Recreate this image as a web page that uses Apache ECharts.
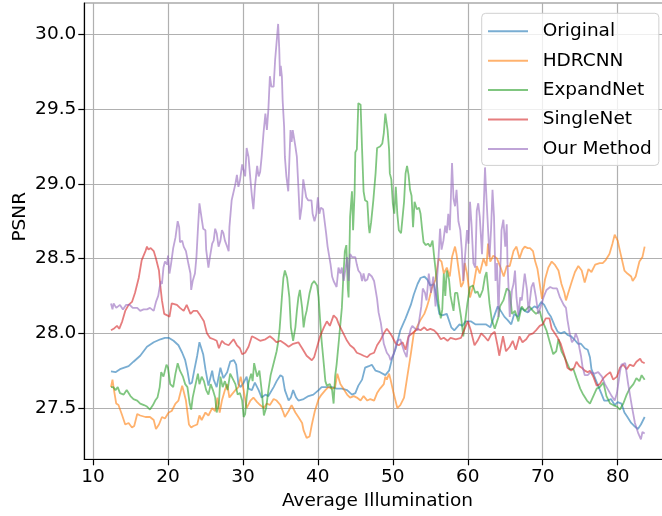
<!DOCTYPE html>
<html>
<head>
<meta charset="utf-8">
<script src="https://cdn.jsdelivr.net/npm/echarts@6/dist/echarts.min.js"></script>
<style>
  html, body { margin: 0; padding: 0; background: #fff; }
  #chart { width: 662px; height: 516px; }
</style>
</head>
<body>
<div id="chart"></div>
<script>
// PSNR versus average illumination for five HDR reconstruction methods.

const seriesNames = ['Original', 'HDRCNN', 'ExpandNet', 'SingleNet', 'Our Method'];
const seriesColors = ['#1f77b4', '#ff7f0e', '#2ca02c', '#d62728', '#9467bd'];

const xTicks = [10, 20, 30, 40, 50, 60, 70, 80];
const yTicks = [27.5, 28.0, 28.5, 29.0, 29.5, 30.0];

// Original
const originalX = [12.4, 13.0, 13.6, 14.75, 15.4, 16.3, 17.2, 18.1, 19.0, 19.6, 20.1, 20.75, 21.4, 21.9, 22.3, 22.6, 22.9, 23.2, 23.5, 23.9, 24.2, 24.4, 24.7, 25.0, 25.4, 25.9, 26.1, 26.5, 27.0, 27.4, 27.9, 28.3, 28.8, 29.1, 29.4, 29.7, 30.1, 30.5, 30.75, 31.2, 31.6, 32.1, 32.5, 33.0, 33.4, 34.1, 34.5, 35.0, 35.3, 35.6, 36.1, 36.4, 36.7, 37.1, 37.4, 38.1, 38.75, 39.4, 40.1, 40.5, 41.2, 41.9, 42.5, 43.2, 43.9, 44.55, 45.0, 45.4, 45.9, 46.3, 46.8, 47.2, 47.7, 48.3, 49.0, 49.5, 49.9, 50.4, 51.0, 51.7, 52.4, 52.8, 53.3, 53.7, 54.2, 54.6, 55.0, 55.5, 55.9, 56.2, 56.6, 57.2, 57.8, 58.2, 58.9, 59.3, 59.7, 60.4, 61.0, 61.7, 62.4, 63.0, 63.7, 64.0, 64.4, 64.9, 65.3, 65.8, 66.2, 66.7, 67.1, 67.6, 68.0, 68.4, 68.9, 69.3, 69.8, 70.2, 70.7, 71.1, 71.6, 72.0, 72.4, 72.9, 73.3, 73.8, 74.2, 74.7, 75.1, 75.6, 76.0, 76.3, 76.5, 76.9, 77.3, 77.8, 78.2, 78.7, 79.1, 79.6, 80.0, 80.5, 80.9, 81.3, 81.8, 82.2, 82.7, 83.1, 83.6];
const originalY = [27.745, 27.74, 27.76, 27.78, 27.81, 27.85, 27.91, 27.94, 27.96, 27.97, 27.97, 27.95, 27.92, 27.87, 27.82, 27.75, 27.66, 27.67, 27.75, 27.85, 27.94, 27.95, 27.86, 27.76, 27.65, 27.75, 27.69, 27.64, 27.77, 27.70, 27.74, 27.81, 27.82, 27.79, 27.66, 27.64, 27.67, 27.71, 27.63, 27.62, 27.67, 27.62, 27.57, 27.59, 27.58, 27.64, 27.68, 27.72, 27.71, 27.62, 27.55, 27.57, 27.62, 27.57, 27.55, 27.56, 27.58, 27.59, 27.62, 27.64, 27.64, 27.64, 27.63, 27.63, 27.62, 27.59, 27.60, 27.65, 27.69, 27.77, 27.78, 27.79, 27.75, 27.74, 27.72, 27.75, 27.83, 27.90, 28.02, 28.10, 28.19, 28.26, 28.33, 28.37, 28.38, 28.36, 28.32, 28.33, 28.22, 28.13, 28.12, 28.13, 28.04, 28.02, 28.06, 28.05, 28.08, 28.08, 28.06, 28.06, 28.06, 28.04, 28.14, 28.18, 28.15, 28.11, 28.09, 28.06, 28.13, 28.11, 28.17, 28.15, 28.14, 28.16, 28.18, 28.17, 28.21, 28.19, 28.14, 28.11, 28.05, 28.01, 28.00, 28.01, 27.99, 27.98, 27.96, 27.93, 27.93, 27.90, 27.89, 27.84, 27.76, 27.71, 27.66, 27.60, 27.55, 27.55, 27.56, 27.52, 27.54, 27.53, 27.47, 27.44, 27.40, 27.38, 27.36, 27.39, 27.44];

// HDRCNN
const hdrcnnX = [12.4, 12.6, 12.8, 13.1, 13.4, 13.9, 14.3, 14.75, 15.2, 15.5, 15.9, 16.3, 17.0, 17.6, 18.1, 18.4, 18.8, 19.2, 19.6, 20.1, 20.5, 21.0, 21.4, 21.9, 22.2, 22.4, 22.8, 23.1, 23.4, 23.9, 24.2, 24.5, 25.0, 25.4, 25.9, 26.3, 26.6, 26.9, 27.2, 27.6, 27.9, 28.2, 28.5, 29.0, 29.4, 29.7, 30.1, 30.5, 31.0, 31.4, 31.9, 32.3, 32.8, 33.2, 33.6, 34.1, 34.5, 35.0, 35.4, 35.6, 36.1, 36.5, 37.0, 37.4, 37.9, 38.1, 38.5, 38.9, 39.2, 39.6, 40.1, 40.5, 41.0, 41.4, 41.9, 42.3, 42.6, 43.0, 43.4, 43.9, 44.3, 44.8, 45.2, 45.7, 46.1, 46.6, 47.0, 47.5, 47.9, 48.3, 48.8, 49.0, 49.2, 49.5, 49.7, 50.1, 50.6, 51.0, 51.5, 51.9, 52.4, 52.8, 53.3, 53.7, 54.2, 54.5, 54.8, 55.2, 55.7, 56.1, 56.5, 56.8, 57.2, 57.6, 57.9, 58.3, 58.5, 58.8, 59.1, 59.4, 59.6, 59.9, 60.3, 60.8, 61.2, 61.6, 62.1, 62.5, 62.7, 63.0, 63.4, 63.9, 64.3, 64.8, 65.2, 65.6, 66.1, 66.5, 66.9, 67.3, 67.6, 68.0, 68.3, 68.7, 69.0, 69.3, 69.6, 69.9, 70.3, 70.75, 71.2, 71.6, 72.1, 72.5, 72.9, 73.1, 73.4, 73.9, 74.3, 74.75, 75.2, 75.6, 76.1, 76.5, 77.0, 77.6, 78.0, 78.4, 78.9, 79.3, 79.6, 80.0, 80.4, 80.9, 81.3, 81.8, 82.0, 82.4, 82.9, 83.3, 83.6];
const hdrcnnY = [27.64, 27.69, 27.62, 27.53, 27.52, 27.45, 27.39, 27.40, 27.37, 27.38, 27.46, 27.45, 27.44, 27.44, 27.42, 27.36, 27.39, 27.44, 27.43, 27.47, 27.48, 27.53, 27.55, 27.65, 27.59, 27.55, 27.39, 27.37, 27.38, 27.39, 27.45, 27.42, 27.47, 27.45, 27.50, 27.48, 27.57, 27.47, 27.55, 27.62, 27.66, 27.57, 27.59, 27.62, 27.64, 27.71, 27.62, 27.50, 27.55, 27.57, 27.54, 27.52, 27.50, 27.53, 27.52, 27.56, 27.55, 27.52, 27.47, 27.44, 27.48, 27.52, 27.47, 27.44, 27.40, 27.35, 27.30, 27.31, 27.39, 27.48, 27.56, 27.59, 27.62, 27.64, 27.63, 27.64, 27.73, 27.66, 27.63, 27.59, 27.57, 27.58, 27.57, 27.55, 27.58, 27.55, 27.56, 27.55, 27.60, 27.63, 27.66, 27.71, 27.69, 27.73, 27.69, 27.60, 27.50, 27.52, 27.57, 27.70, 27.86, 28.00, 28.05, 28.09, 28.13, 28.17, 28.22, 28.30, 28.36, 28.50, 28.48, 28.40, 28.44, 28.38, 28.51, 28.58, 28.53, 28.42, 28.31, 28.34, 28.47, 28.40, 28.24, 28.33, 28.45, 28.40, 28.50, 28.45, 28.60, 28.48, 28.52, 28.50, 28.45, 28.38, 28.45, 28.45, 28.55, 28.58, 28.50, 28.56, 28.58, 28.57, 28.57, 28.55, 28.48, 28.43, 28.33, 28.23, 28.36, 28.44, 28.48, 28.46, 28.42, 28.33, 28.27, 28.22, 28.27, 28.35, 28.41, 28.45, 28.42, 28.34, 28.43, 28.41, 28.46, 28.47, 28.47, 28.49, 28.53, 28.60, 28.66, 28.62, 28.53, 28.42, 28.40, 28.38, 28.35, 28.38, 28.48, 28.51, 28.58];

// ExpandNet
const expandnetX = [12.4, 12.7, 13.0, 13.3, 13.6, 14.1, 14.5, 15.0, 15.4, 15.9, 16.3, 16.8, 17.2, 17.6, 18.0, 18.3, 18.6, 18.9, 19.1, 19.4, 19.8, 20.0, 20.3, 20.7, 21.0, 21.3, 21.6, 22.0, 22.3, 22.6, 22.9, 23.1, 23.3, 23.6, 24.0, 24.2, 24.5, 24.8, 25.1, 25.4, 25.7, 26.0, 26.3, 26.5, 26.8, 27.0, 27.3, 27.6, 27.95, 28.3, 28.7, 29.0, 29.3, 29.6, 29.9, 30.1, 30.3, 30.5, 30.75, 31.1, 31.3, 31.5, 31.9, 32.2, 32.5, 32.8, 33.1, 33.4, 33.7, 34.0, 34.3, 34.5, 34.7, 34.9, 35.2, 35.4, 35.6, 35.9, 36.2, 36.4, 36.6, 36.7, 37.0, 37.2, 37.4, 37.6, 37.9, 38.1, 38.3, 38.5, 38.9, 39.2, 39.5, 39.9, 40.1, 40.3, 40.5, 40.8, 41.0, 41.2, 41.6, 41.9, 42.1, 42.3, 42.5, 42.8, 43.0, 43.2, 43.4, 43.6, 43.8, 44.0, 44.1, 44.3, 44.55, 44.7, 44.9, 45.0, 45.2, 45.4, 45.7, 45.9, 46.1, 46.3, 46.6, 46.8, 46.9, 47.1, 47.4, 47.7, 47.9, 48.3, 48.6, 48.8, 49.0, 49.3, 49.5, 49.6, 49.8, 50.0, 50.2, 50.4, 50.6, 50.8, 51.1, 51.5, 51.7, 51.9, 52.1, 52.3, 52.5, 52.7, 52.9, 53.2, 53.5, 53.7, 53.9, 54.1, 54.4, 54.7, 55.0, 55.3, 55.5, 55.8, 56.1, 56.4, 56.6, 56.8, 57.0, 57.2, 57.5, 57.7, 57.9, 58.1, 58.3, 58.6, 58.8, 59.1, 59.4, 59.6, 59.95, 60.3, 60.7, 61.0, 61.3, 61.6, 62.0, 62.3, 62.5, 62.9, 63.2, 63.6, 64.1, 64.3, 64.75, 65.2, 65.6, 65.9, 66.3, 66.75, 67.2, 67.6, 68.2, 68.7, 69.1, 69.6, 69.9, 70.5, 71.0, 71.4, 71.8, 72.1, 72.5, 73.0, 73.6, 74.1, 74.5, 75.0, 75.4, 75.9, 76.3, 76.75, 77.2, 77.6, 78.1, 78.5, 79.0, 79.4, 79.9, 80.3, 80.75, 81.2, 81.6, 82.1, 82.5, 82.9, 83.2, 83.6];
const expandnetY = [27.64, 27.64, 27.62, 27.64, 27.60, 27.59, 27.62, 27.58, 27.56, 27.55, 27.53, 27.52, 27.51, 27.49, 27.52, 27.55, 27.57, 27.64, 27.74, 27.71, 27.79, 27.77, 27.66, 27.64, 27.73, 27.80, 27.75, 27.71, 27.66, 27.64, 27.53, 27.49, 27.57, 27.64, 27.73, 27.66, 27.71, 27.68, 27.62, 27.59, 27.66, 27.62, 27.57, 27.47, 27.53, 27.71, 27.64, 27.68, 27.62, 27.73, 27.69, 27.66, 27.59, 27.60, 27.55, 27.44, 27.46, 27.57, 27.67, 27.73, 27.68, 27.80, 27.71, 27.75, 27.62, 27.45, 27.50, 27.62, 27.72, 27.78, 27.84, 27.88, 27.94, 28.03, 28.24, 28.37, 28.42, 28.37, 28.24, 28.04, 28.05, 27.95, 28.04, 28.15, 28.24, 28.29, 28.17, 28.04, 28.11, 28.15, 28.27, 28.33, 28.35, 28.32, 28.24, 28.09, 27.95, 27.79, 27.68, 27.65, 27.66, 27.62, 27.53, 27.71, 27.79, 27.95, 28.06, 28.17, 28.38, 28.55, 28.59, 28.30, 28.24, 28.78, 28.95, 28.69, 28.94, 29.21, 29.23, 29.54, 29.53, 29.23, 28.95, 28.89, 28.88, 28.71, 28.67, 28.74, 28.89, 29.07, 29.24, 29.25, 29.27, 29.34, 29.47, 29.36, 29.23, 29.07, 29.03, 28.87, 28.80, 28.98, 28.80, 28.69, 28.67, 28.88, 29.07, 29.12, 29.06, 28.96, 28.92, 28.71, 28.88, 28.83, 28.84, 28.80, 28.70, 28.61, 28.59, 28.60, 28.58, 28.62, 28.52, 28.38, 28.20, 28.10, 28.16, 28.40, 28.25, 28.42, 28.36, 28.25, 28.20, 28.15, 28.27, 28.27, 28.28, 28.11, 27.98, 28.06, 28.20, 28.31, 28.32, 28.27, 28.28, 28.24, 28.29, 28.38, 28.41, 28.20, 28.09, 28.03, 28.11, 28.18, 28.22, 28.30, 28.28, 28.13, 28.15, 28.08, 28.18, 28.15, 28.18, 28.15, 28.13, 28.15, 28.09, 28.02, 27.93, 27.86, 27.88, 27.96, 27.88, 27.83, 27.76, 27.76, 27.70, 27.63, 27.59, 27.55, 27.53, 27.58, 27.63, 27.64, 27.67, 27.58, 27.53, 27.52, 27.51, 27.49, 27.53, 27.59, 27.63, 27.66, 27.70, 27.68, 27.72, 27.69];

// SingleNet
const singlenetX = [12.4, 12.75, 13.2, 13.5, 13.9, 14.3, 14.75, 15.2, 15.6, 16.1, 16.5, 17.0, 17.2, 17.4, 17.7, 18.1, 18.4, 18.8, 19.0, 19.2, 19.5, 19.9, 20.2, 20.5, 20.75, 21.2, 21.6, 22.1, 22.5, 23.0, 23.4, 23.9, 24.3, 24.8, 25.2, 25.6, 26.1, 26.5, 26.8, 27.2, 27.6, 28.1, 28.75, 29.2, 29.6, 29.9, 30.3, 30.75, 31.2, 31.6, 32.3, 33.0, 33.6, 34.1, 34.5, 35.0, 35.6, 36.1, 36.7, 37.4, 37.9, 38.5, 39.2, 39.5, 39.9, 40.3, 40.8, 41.2, 41.6, 42.1, 42.5, 42.8, 43.0, 43.4, 43.9, 44.3, 44.8, 45.2, 45.7, 46.1, 46.6, 47.0, 47.5, 47.9, 48.3, 48.8, 49.2, 49.5, 49.9, 50.4, 50.8, 51.3, 51.7, 52.1, 52.6, 53.3, 53.7, 54.2, 54.6, 55.0, 55.5, 55.9, 56.4, 56.8, 57.3, 57.7, 58.4, 59.1, 59.5, 60.0, 60.4, 60.9, 61.3, 61.8, 62.2, 62.7, 63.1, 63.6, 64.0, 64.2, 64.7, 65.1, 65.6, 66.0, 66.4, 66.9, 67.3, 67.8, 68.2, 68.7, 69.1, 69.6, 70.0, 70.4, 70.9, 71.2, 71.6, 72.0, 72.4, 72.9, 73.3, 73.8, 74.2, 74.5, 74.9, 75.2, 75.6, 76.0, 76.3, 76.75, 77.2, 77.6, 78.1, 78.5, 79.0, 79.4, 79.9, 80.3, 80.75, 81.2, 81.6, 82.1, 82.5, 83.0, 83.2, 83.6];
const singlenetY = [28.02, 28.03, 28.05, 28.03, 28.08, 28.15, 28.19, 28.21, 28.27, 28.37, 28.49, 28.55, 28.58, 28.56, 28.57, 28.55, 28.50, 28.42, 28.31, 28.22, 28.13, 28.12, 28.11, 28.20, 28.21, 28.19, 28.17, 28.15, 28.19, 28.13, 28.15, 28.15, 28.12, 28.08, 28.00, 27.97, 27.96, 27.95, 27.90, 27.95, 27.93, 27.92, 27.96, 27.92, 27.90, 27.86, 27.87, 27.91, 27.98, 27.97, 27.95, 27.96, 27.98, 27.96, 27.94, 27.95, 27.93, 27.91, 27.93, 27.94, 27.90, 27.85, 27.82, 27.84, 27.91, 27.98, 28.04, 28.08, 28.05, 28.12, 28.10, 28.06, 28.04, 28.00, 27.95, 27.92, 27.90, 27.87, 27.86, 27.85, 27.84, 27.86, 27.87, 27.92, 27.95, 28.00, 28.03, 28.01, 27.98, 27.93, 27.92, 27.94, 27.89, 27.98, 28.00, 28.03, 28.02, 28.04, 28.02, 28.03, 28.02, 28.00, 27.96, 27.97, 27.95, 27.97, 27.96, 27.97, 28.02, 28.08, 28.02, 27.92, 27.95, 28.00, 27.98, 27.95, 27.99, 28.01, 27.91, 27.85, 27.98, 27.88, 27.91, 27.95, 27.89, 27.98, 27.94, 27.96, 27.99, 28.00, 28.02, 28.05, 28.06, 28.10, 28.10, 28.03, 28.00, 27.97, 27.93, 27.85, 27.77, 27.75, 27.77, 27.81, 27.78, 27.77, 27.75, 27.74, 27.75, 27.71, 27.65, 27.66, 27.70, 27.72, 27.74, 27.69, 27.71, 27.77, 27.79, 27.76, 27.79, 27.78, 27.81, 27.83, 27.81, 27.80];

// Our Method
const oursX = [12.4, 12.6, 12.75, 13.1, 13.6, 14.0, 14.4, 14.9, 15.3, 15.9, 16.3, 16.75, 17.2, 17.6, 18.1, 18.4, 18.7, 18.9, 19.1, 19.2, 19.4, 19.6, 19.9, 20.0, 20.2, 20.4, 20.7, 21.0, 21.3, 21.5, 21.6, 21.9, 22.1, 22.4, 22.75, 23.0, 23.1, 23.3, 23.6, 23.8, 24.0, 24.2, 24.4, 24.7, 25.0, 25.1, 25.4, 25.6, 25.9, 26.1, 26.3, 26.5, 26.75, 27.0, 27.2, 27.4, 27.6, 27.9, 28.1, 28.2, 28.5, 28.75, 29.0, 29.2, 29.4, 29.6, 29.9, 30.1, 30.3, 30.5, 30.75, 31.0, 31.2, 31.4, 31.6, 31.9, 32.1, 32.3, 32.5, 32.75, 33.0, 33.2, 33.4, 33.6, 33.8, 34.1, 34.3, 34.5, 34.7, 34.85, 34.95, 35.05, 35.2, 35.3, 35.5, 35.6, 35.8, 36.05, 36.2, 36.35, 36.5, 36.65, 36.8, 37.0, 37.2, 37.4, 37.6, 37.85, 38.05, 38.25, 38.45, 38.7, 38.9, 39.15, 39.3, 39.55, 39.8, 40.0, 40.2, 40.4, 40.7, 40.9, 41.1, 41.3, 41.5, 41.7, 41.9, 42.1, 42.3, 42.5, 42.75, 43.0, 43.2, 43.45, 43.65, 43.9, 44.1, 44.3, 44.55, 44.8, 45.0, 45.2, 45.4, 45.7, 45.9, 46.1, 46.3, 46.6, 46.8, 47.0, 47.2, 47.5, 47.7, 47.9, 48.1, 48.4, 48.6, 48.8, 49.0, 49.2, 49.5, 49.7, 50.1, 50.6, 51.0, 51.5, 51.85, 52.1, 52.4, 52.6, 53.0, 53.3, 53.5, 53.8, 54.0, 54.3, 54.5, 54.8, 55.1, 55.4, 55.7, 55.9, 56.1, 56.3, 56.5, 56.75, 57.0, 57.2, 57.4, 57.6, 57.9, 58.1, 58.3, 58.5, 58.75, 59.0, 59.2, 59.4, 59.6, 59.9, 60.1, 60.3, 60.5, 60.75, 61.0, 61.2, 61.4, 61.6, 61.9, 62.1, 62.3, 62.4, 62.6, 62.9, 63.1, 63.3, 63.5, 63.7, 63.9, 64.1, 64.2, 64.4, 64.5, 64.75, 65.0, 65.2, 65.3, 65.5, 65.6, 65.9, 66.1, 66.3, 66.5, 66.75, 67.0, 67.2, 67.6, 67.9, 68.1, 68.5, 68.75, 69.1, 69.4, 69.8, 70.1, 70.5, 71.0, 71.4, 71.9, 72.3, 72.8, 73.1, 73.3, 73.6, 73.9, 74.2, 74.4, 74.7, 74.9, 75.1, 75.3, 75.6, 76.0, 76.4, 76.9, 77.4, 77.9, 78.3, 78.75, 79.2, 79.6, 79.9, 80.3, 80.5, 81.0, 81.4, 81.9, 82.3, 82.75, 83.1, 83.3, 83.6];
const oursY = [28.20, 28.16, 28.20, 28.17, 28.19, 28.16, 28.19, 28.19, 28.17, 28.17, 28.15, 28.16, 28.16, 28.17, 28.15, 28.21, 28.25, 28.31, 28.35, 28.33, 28.44, 28.48, 28.46, 28.52, 28.40, 28.46, 28.57, 28.64, 28.75, 28.71, 28.61, 28.62, 28.58, 28.55, 28.46, 28.40, 28.29, 28.35, 28.40, 28.51, 28.70, 28.87, 28.80, 28.70, 28.69, 28.56, 28.44, 28.51, 28.60, 28.62, 28.70, 28.67, 28.58, 28.62, 28.69, 28.67, 28.62, 28.58, 28.55, 28.71, 28.89, 28.90, 29.00, 29.06, 28.98, 29.02, 29.13, 29.12, 29.05, 29.24, 29.18, 29.03, 28.92, 28.83, 28.98, 29.12, 29.05, 29.08, 29.18, 29.34, 29.47, 29.36, 29.50, 29.72, 29.65, 29.65, 29.83, 29.83, 30.07, 29.90, 29.72, 29.79, 29.72, 29.56, 29.38, 29.18, 29.05, 28.95, 29.16, 29.36, 29.28, 29.36, 29.36, 29.25, 29.18, 28.98, 28.76, 28.85, 29.03, 29.04, 28.91, 28.89, 28.90, 28.89, 28.80, 28.75, 28.80, 28.91, 28.80, 28.84, 28.83, 28.83, 28.67, 28.58, 28.52, 28.46, 28.38, 28.35, 28.33, 28.31, 28.44, 28.40, 28.44, 28.35, 28.34, 28.51, 28.35, 28.53, 28.51, 28.52, 28.51, 28.46, 28.42, 28.40, 28.35, 28.40, 28.35, 28.36, 28.40, 28.41, 28.38, 28.35, 28.29, 28.23, 28.14, 28.07, 28.00, 27.93, 27.90, 27.87, 27.85, 27.82, 27.86, 27.95, 27.96, 27.88, 27.84, 27.97, 28.03, 28.05, 28.03, 28.02, 28.08, 28.18, 28.30, 28.27, 28.22, 28.40, 28.27, 28.38, 28.18, 28.36, 28.51, 28.70, 28.56, 28.62, 28.72, 28.67, 28.80, 28.69, 29.14, 28.90, 28.85, 28.96, 28.75, 28.69, 28.56, 28.35, 28.49, 28.69, 28.60, 28.88, 28.73, 28.47, 28.44, 28.82, 28.87, 28.78, 28.53, 28.80, 29.11, 29.00, 28.80, 28.51, 28.69, 28.96, 28.78, 28.35, 28.47, 28.11, 28.29, 28.51, 28.69, 28.76, 28.58, 28.73, 28.47, 28.24, 28.11, 28.29, 28.33, 28.42, 28.24, 28.12, 28.24, 28.22, 28.40, 28.29, 28.14, 28.31, 28.34, 28.24, 28.13, 28.19, 28.24, 28.29, 28.31, 28.30, 28.30, 28.24, 28.19, 28.17, 28.09, 28.00, 27.94, 27.96, 28.00, 27.96, 27.90, 27.85, 27.78, 27.72, 27.72, 27.74, 27.73, 27.74, 27.71, 27.66, 27.62, 27.58, 27.55, 27.60, 27.74, 27.79, 27.80, 27.66, 27.51, 27.40, 27.33, 27.29, 27.34, 27.33];

const seriesX = [originalX, hdrcnnX, expandnetX, singlenetX, oursX];
const seriesY = [originalY, hdrcnnY, expandnetY, singlenetY, oursY];

const FONT = 'DejaVu Sans';
const chart = echarts.init(document.getElementById('chart'), null, { renderer: 'canvas' });

const axisText = { color: '#000', fontFamily: FONT, fontSize: 18.5 };

chart.setOption({
  animation: false,
  backgroundColor: '#fff',
  grid: {
    left: 84.3, top: 3, width: 586.3, height: 456.3,
    outerBoundsMode: 'none', containLabel: false,
    show: true, borderColor: '#808080', borderWidth: 1.2, backgroundColor: 'transparent'
  },
  legend: {
    data: seriesNames,
    orient: 'vertical',
    left: 481.7, top: 13.3,
    icon: 'rect', itemWidth: 40, itemHeight: 2, itemGap: 9.4,
    padding: [8, 7, 6.5, 6.3],
    backgroundColor: 'rgba(255,255,255,0.8)',
    borderColor: '#d0d0d0', borderWidth: 1, borderRadius: 4,
    itemStyle: { opacity: 0.6 },
    textStyle: { color: '#000', fontFamily: FONT, fontSize: 18.5, lineHeight: 20, padding: [0, 0, 0, 9.7] }
  },
  graphic: [{
    type: 'text',
    left: 10.5, top: 192,
    rotation: Math.PI / 2,
    style: { text: 'PSNR', fill: '#000', font: '18.5px "DejaVu Sans"' }
  }],
  xAxis: {
    type: 'value', min: 8.84, max: 87.06,
    name: 'Average Illumination', nameLocation: 'middle', nameGap: 32,
    nameTextStyle: axisText,
    axisLine: { onZero: false, lineStyle: { color: '#000', width: 1.2 } },
    axisTick: { show: true, length: 6, customValues: xTicks, lineStyle: { color: '#000', width: 1.2 } },
    axisLabel: Object.assign({ margin: 8, customValues: xTicks, formatter: v => String(Math.round(v)) }, axisText),
    splitLine: { show: true, lineStyle: { color: '#b0b0b0', width: 1.2 } }
  },
  yAxis: {
    type: 'value', min: 27.157, max: 30.21,
    axisLine: { show: true, onZero: false, lineStyle: { color: '#000', width: 1.2 } },
    axisTick: { show: true, length: 6, customValues: yTicks, lineStyle: { color: '#000', width: 1.2 } },
    axisLabel: Object.assign({ margin: 8, customValues: yTicks, formatter: v => v.toFixed(1) }, axisText),
    splitLine: { show: true, lineStyle: { color: '#b0b0b0', width: 1.2 } }
  },
  series: seriesNames.map((name, i) => ({
    name: name,
    type: 'line',
    showSymbol: false,
    symbol: 'none',
    color: seriesColors[i],
    lineStyle: { width: 1.8, opacity: 0.6 },
    data: seriesX[i].map((x, j) => [x, seriesY[i][j]])
  }))
});
</script>
</body>
</html>
